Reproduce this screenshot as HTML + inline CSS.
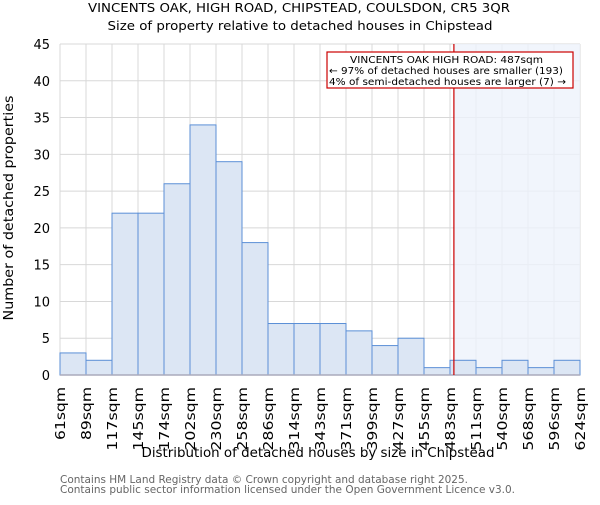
<!DOCTYPE html>
<html><head><meta charset="utf-8"><style>
body{margin:0;background:#fff;}
svg{font-family:"DejaVu Sans","Liberation Sans",sans-serif;}
</style></head><body>
<svg id="chart" width="600" height="500">
<text x="299" y="12" text-anchor="middle" font-size="12.5" textLength="422" lengthAdjust="spacingAndGlyphs" fill="#000">VINCENTS OAK, HIGH ROAD, CHIPSTEAD, COULSDON, CR5 3QR</text>
<text x="300" y="30" text-anchor="middle" font-size="12.5" textLength="385" lengthAdjust="spacingAndGlyphs" fill="#000">Size of property relative to detached houses in Chipstead</text>
<g id="grid"></g>
<rect id="shade" fill="#eef2fb" opacity="0.8"></rect>
<g id="bars"></g>
<g id="axes"></g>
<text transform="translate(13,208) rotate(-90)" text-anchor="middle" font-size="13" textLength="225" lengthAdjust="spacingAndGlyphs">Number of detached properties</text>
<text x="318" y="457" text-anchor="middle" font-size="13" textLength="353" lengthAdjust="spacingAndGlyphs">Distribution of detached houses by size in Chipstead</text>
<text x="60" y="483" font-size="10.5" textLength="408" lengthAdjust="spacingAndGlyphs" fill="#666">Contains HM Land Registry data © Crown copyright and database right 2025.</text>
<text x="60" y="493" font-size="10.5" textLength="455" lengthAdjust="spacingAndGlyphs" fill="#666">Contains public sector information licensed under the Open Government Licence v3.0.</text>
<g>
<rect x="327" y="52" width="246" height="36" fill="#fff" stroke="#c00" stroke-width="1.2"></rect>
<text x="350" y="63" font-size="10" textLength="193" lengthAdjust="spacingAndGlyphs">VINCENTS OAK HIGH ROAD: 487sqm</text>
<text x="329" y="74" font-size="10" textLength="234" lengthAdjust="spacingAndGlyphs">← 97% of detached houses are smaller (193)</text>
<text x="329" y="85" font-size="10" textLength="237" lengthAdjust="spacingAndGlyphs">4% of semi-detached houses are larger (7) →</text>
</g>
</svg>
<script>
const labels=["61sqm","89sqm","117sqm","145sqm","174sqm","202sqm","230sqm","258sqm","286sqm","314sqm","343sqm","371sqm","399sqm","427sqm","455sqm","483sqm","511sqm","540sqm","568sqm","596sqm","624sqm"];
const counts=[3,2,22,22,26,34,29,18,7,7,7,6,4,5,1,2,1,2,1,2];
const yTicks=[0,5,10,15,20,25,30,35,40,45];
const marker=15.15;
const NS="http://www.w3.org/2000/svg";
const x0=60,x1=580,y0=375,y1=44,yMax=45;
const bw=(x1-x0)/counts.length;
const X=i=>x0+i*bw;
const Y=v=>y0-(y0-y1)*v/yMax;
function mk(tag,attrs,parent){const e=document.createElementNS(NS,tag);for(const k in attrs)e.setAttribute(k,attrs[k]);parent.appendChild(e);return e;}
const grid=document.getElementById('grid'),bars=document.getElementById('bars'),axes=document.getElementById('axes');
yTicks.forEach(t=>{
 const l=mk('line',{x1:x0,x2:x1,y1:Y(t),y2:Y(t),stroke:'#d8d8d8'},grid);
 
 
 const tx=mk('text',{x:x0-10,y:Y(t)+5,'text-anchor':'end','font-size':13},axes);
 tx.textContent=t;
 
 
});
labels.forEach((lab,i)=>{
 const l=mk('line',{x1:X(i),x2:X(i),y1:y1,y2:y0,stroke:'#d8d8d8'},grid);
 
 
 const tl=lab.length*10.6;
 const tx=mk('text',{transform:`translate(${X(i)+5},${y0+12}) rotate(-90)`,'text-anchor':'end','font-size':13,textLength:tl,lengthAdjust:'spacingAndGlyphs'},axes);
 tx.textContent=lab;
 
 
});
const mx=X(marker);
const sh=document.getElementById('shade');
sh.setAttribute('x',mx);sh.setAttribute('y',y1);sh.setAttribute('width',x1-mx);sh.setAttribute('height',y0-y1);
counts.forEach((c,i)=>{
 const r=mk('rect',{x:X(i),y:Y(c),width:bw,height:y0-Y(c),fill:'#dce6f4',stroke:'#5b8fd6','stroke-width':1},bars);
 
 
});
const ax=mk('line',{x1:x0,x2:x1,y1:y0,y2:y0,stroke:'#aab',"stroke-width":1.5},axes);


const ml=mk('line',{x1:mx,x2:mx,y1:y1,y2:y0,stroke:'#c00','stroke-width':1.2},axes);


</script>
</body></html>
